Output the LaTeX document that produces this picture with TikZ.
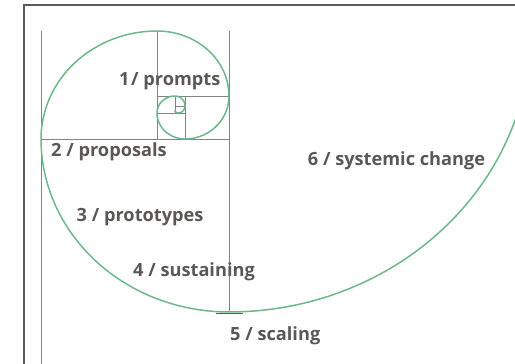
\documentclass[tikz,border=0pt]{standalone}
\usepackage{fontspec}
\setmainfont{Open Sans}
\definecolor{spiral}{HTML}{6DB88A}
\definecolor{gridline}{HTML}{858382}
\definecolor{framec}{HTML}{5E5A58}
\definecolor{labelc}{HTML}{5B5756}
\begin{document}
\begin{tikzpicture}[x=1pt,y=-1pt,
  thin line/.style={draw=gridline,line width=0.8pt},
  frame line/.style={draw=framec,line width=2.2pt},
  spiral line/.style={draw=spiral,line width=1.5pt,line join=round},
  lbl/.style={anchor=base west,inner sep=0pt,text=labelc,font=\fontsize{18.2}{21}\selectfont\bfseries}]
\useasboundingbox (0,0) rectangle (515,364);
\clip (0,0) rectangle (515,364);
% frame
\draw[frame line] (24,370) -- (24,5) -- (520,5);
% grid lines
\draw[thin line] (41.5,31) -- (41.5,370);
\draw[thin line] (229,31) -- (229,312);
\draw[thin line] (41.5,139) -- (229,139);
\draw[thin line] (157,31) -- (157,139);
\draw[thin line] (157,96) -- (229,96);
\draw[thin line] (185,96) -- (185,139);
\draw[thin line] (157,113) -- (185,113);
\draw[thin line] (175,96) -- (175,113);
\draw[thin line] (175,106) -- (185,106);
\draw[draw=framec,line width=1.2pt] (216,313.5) -- (243,313.5);
% spiral
\draw[spiral line]
  plot[domain=5:90,samples=60] ({229+302*cos(\x)},{30+282*sin(\x)})
  -- plot[domain=90:180,samples=40] ({229+188*cos(\x)},{139+173*sin(\x)})
  -- plot[domain=180:270,samples=40] ({157+116*cos(\x)},{139+108*sin(\x)})
  -- plot[domain=270:360,samples=30] ({157+72*cos(\x)},{96+65*sin(\x)})
  -- plot[domain=0:90,samples=25] ({185+44*cos(\x)},{96+43*sin(\x)})
  -- plot[domain=90:180,samples=20] ({185+28*cos(\x)},{113+26*sin(\x)})
  -- plot[domain=180:270,samples=15] ({175+18*cos(\x)},{113+17*sin(\x)})
  -- plot[domain=270:360,samples=12] ({175+10*cos(\x)},{106+10*sin(\x)})
  -- plot[domain=0:90,samples=10] ({178+7*cos(\x)},{106+7*sin(\x)})
  -- plot[domain=90:180,samples=8] ({178+3*cos(\x)},{110+3*sin(\x)});
% labels
\node[lbl] (l1) at (119,85.5) {1\kern1.5pt/ prompts};
\node[lbl] (l2) at (51,156.7) {2 / proposals};
\node[lbl] (l3) at (76.5,221) {3 / prototypes};
\node[lbl] (l4) at (133,276.7) {4 / sustaining};
\node[lbl] (l5) at (230,340.5) {5 / scaling};
\node[lbl] (l6) at (307.7,165.5) {6 / systemic change};
\end{tikzpicture}
\end{document}
